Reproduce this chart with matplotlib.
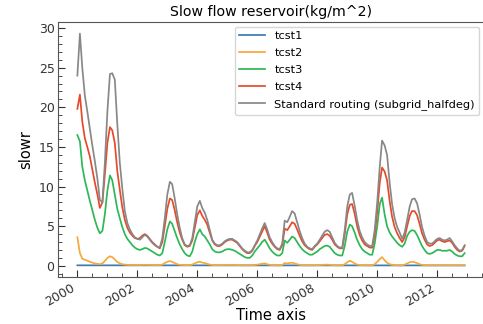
import matplotlib
matplotlib.use("Agg")
import matplotlib.pyplot as plt
import matplotlib.dates as mdates
import pandas as pd

# Monthly values, Jan 2000 - Dec 2012 (one row per year)
tcst1 = [
    0.06, 0.06, 0.05, 0.05, 0.05, 0.05, 0.05, 0.05, 0.05, 0.05, 0.05, 0.05,
    0.05, 0.06, 0.06, 0.05, 0.05, 0.05, 0.05, 0.05, 0.05, 0.05, 0.05, 0.05,
    0.05, 0.05, 0.05, 0.05, 0.05, 0.05, 0.05, 0.05, 0.05, 0.05, 0.05, 0.05,
    0.05, 0.05, 0.05, 0.05, 0.05, 0.05, 0.05, 0.05, 0.05, 0.05, 0.05, 0.05,
    0.05, 0.05, 0.05, 0.05, 0.05, 0.05, 0.05, 0.05, 0.05, 0.05, 0.05, 0.05,
    0.05, 0.05, 0.05, 0.05, 0.05, 0.05, 0.05, 0.05, 0.05, 0.05, 0.05, 0.05,
    0.05, 0.05, 0.05, 0.05, 0.05, 0.05, 0.05, 0.05, 0.05, 0.05, 0.05, 0.05,
    0.05, 0.05, 0.05, 0.05, 0.05, 0.05, 0.05, 0.05, 0.05, 0.05, 0.05, 0.05,
    0.05, 0.05, 0.05, 0.05, 0.05, 0.05, 0.05, 0.05, 0.05, 0.05, 0.05, 0.05,
    0.05, 0.05, 0.05, 0.05, 0.05, 0.05, 0.05, 0.05, 0.05, 0.05, 0.05, 0.05,
    0.05, 0.06, 0.06, 0.05, 0.05, 0.05, 0.05, 0.05, 0.05, 0.05, 0.05, 0.05,
    0.05, 0.05, 0.05, 0.05, 0.05, 0.05, 0.05, 0.05, 0.05, 0.05, 0.05, 0.05,
    0.05, 0.05, 0.05, 0.05, 0.05, 0.05, 0.05, 0.05, 0.05, 0.05, 0.05, 0.05,
]
tcst2 = [
    3.6, 1.6, 0.9, 0.75, 0.65, 0.5, 0.4, 0.3, 0.25, 0.2, 0.3, 0.6,
    1.0, 1.2, 1.1, 0.8, 0.5, 0.3, 0.2, 0.15, 0.12, 0.1, 0.1, 0.1,
    0.1, 0.1, 0.1, 0.12, 0.12, 0.1, 0.1, 0.08, 0.08, 0.08, 0.15, 0.35,
    0.5, 0.6, 0.5, 0.35, 0.2, 0.12, 0.1, 0.08, 0.08, 0.08, 0.15, 0.3,
    0.45, 0.5, 0.4, 0.35, 0.25, 0.15, 0.1, 0.08, 0.08, 0.08, 0.08, 0.1,
    0.1, 0.1, 0.1, 0.1, 0.08, 0.07, 0.06, 0.05, 0.05, 0.05, 0.06, 0.1,
    0.15, 0.2, 0.25, 0.3, 0.2, 0.12, 0.08, 0.06, 0.05, 0.05, 0.1, 0.35,
    0.3, 0.35, 0.4, 0.3, 0.2, 0.12, 0.08, 0.06, 0.05, 0.05, 0.05, 0.06,
    0.08, 0.1, 0.12, 0.15, 0.15, 0.12, 0.08, 0.06, 0.05, 0.05, 0.05, 0.2,
    0.45, 0.65, 0.5, 0.3, 0.15, 0.1, 0.07, 0.06, 0.05, 0.05, 0.05, 0.2,
    0.5, 0.85, 1.1, 0.7, 0.4, 0.2, 0.12, 0.08, 0.06, 0.05, 0.05, 0.15,
    0.3, 0.45, 0.5, 0.45, 0.35, 0.2, 0.12, 0.08, 0.06, 0.05, 0.05, 0.05,
    0.06, 0.06, 0.06, 0.06, 0.06, 0.07, 0.06, 0.05, 0.05, 0.05, 0.05, 0.05,
]
tcst3 = [
    16.5, 15.7, 12.5, 10.8, 9.5, 8.2, 7.0, 5.8, 4.8, 4.1, 4.4, 6.5,
    9.5, 11.4, 10.8, 9.0, 7.2, 6.0, 4.9, 4.0, 3.4, 3.0, 2.6, 2.3,
    2.1, 2.0, 2.1, 2.25, 2.2, 2.0, 1.8, 1.6, 1.4, 1.3, 1.6, 3.0,
    4.6, 5.6, 5.3, 4.4, 3.5, 2.7, 2.1, 1.6, 1.3, 1.2, 1.8, 3.0,
    4.0, 4.6, 4.0, 3.7, 3.2, 2.7, 2.1, 1.8, 1.7, 1.7, 1.8, 2.0,
    2.1, 2.1, 2.0, 1.9, 1.7, 1.5, 1.3, 1.1, 1.0, 1.0, 1.3, 1.8,
    2.2, 2.6, 3.0, 3.3, 2.8, 2.2, 1.8, 1.5, 1.3, 1.3, 1.6, 3.2,
    2.9, 3.3, 3.7, 3.5, 3.0, 2.5, 2.1, 1.8, 1.6, 1.4, 1.4, 1.6,
    1.8, 2.1, 2.3, 2.5, 2.55, 2.4, 2.0, 1.6, 1.4, 1.3, 1.3, 2.5,
    4.3, 5.2, 5.0, 4.2, 3.3, 2.6, 2.1, 1.8, 1.6, 1.4, 1.4, 2.8,
    5.0, 7.8, 8.6, 6.5, 5.0, 4.2, 3.7, 3.3, 2.9, 2.6, 2.4, 2.8,
    3.8, 4.3, 4.5, 4.4, 3.9, 3.2, 2.5, 2.0, 1.6, 1.5, 1.6, 1.8,
    2.0, 2.0, 1.9, 1.9, 1.9, 2.0, 1.8, 1.5, 1.3, 1.2, 1.2, 1.6,
]
tcst4 = [
    19.8, 21.6, 18.2, 16.1, 15.0, 13.8, 12.2, 10.5, 9.0, 7.3, 8.0, 11.5,
    15.5, 17.5, 17.1, 15.5, 12.0, 9.6, 7.4, 5.8, 4.8, 4.2, 3.8, 3.5,
    3.4, 3.5, 3.8, 4.0, 3.8, 3.4, 3.0, 2.7, 2.4, 2.2, 3.0, 5.0,
    7.2, 8.5, 8.3, 7.0, 5.5, 4.2, 3.3, 2.6, 2.4, 2.5, 3.2, 4.8,
    6.4, 7.0, 6.3, 5.8, 5.2, 4.2, 3.2, 2.7, 2.5, 2.5, 2.7, 3.0,
    3.2, 3.3, 3.3, 3.1, 2.9, 2.5, 2.1, 1.8, 1.6, 1.6, 1.9, 2.5,
    3.0, 3.7, 4.3, 5.0, 4.2, 3.3, 2.8, 2.4, 2.1, 2.0, 2.6, 4.7,
    4.5, 5.0, 5.5, 5.3, 4.6, 3.8, 3.1, 2.6, 2.3, 2.1, 2.0, 2.4,
    2.7, 3.1, 3.5, 3.9, 4.0, 3.8, 3.3, 2.7, 2.4, 2.2, 2.2, 4.0,
    6.5, 7.7, 7.8, 6.6, 5.0, 3.9, 3.2, 2.7, 2.5, 2.3, 2.3, 3.9,
    6.8, 10.5, 12.4, 11.9, 10.8, 8.2, 6.2, 4.9, 4.1, 3.5, 3.0, 3.6,
    5.0, 6.3, 6.9, 6.9, 6.4, 5.3, 4.1, 3.3, 2.7, 2.5, 2.6, 2.9,
    3.2, 3.3, 3.1, 3.0, 3.1, 3.2, 2.9, 2.4, 2.0, 1.8, 1.9, 2.5,
]
standard = [
    24.0, 29.3, 25.0, 21.5, 19.5, 17.3, 15.2, 13.2, 11.0, 8.3, 8.0, 13.0,
    19.5, 24.2, 24.3, 23.5, 18.0, 13.0, 9.8, 6.9, 5.4, 4.6, 4.0, 3.6,
    3.4, 3.3, 3.6, 3.9, 3.7, 3.3, 2.9, 2.6, 2.4, 2.3, 3.5, 6.0,
    9.0, 10.6, 10.3, 8.5, 6.5, 4.8, 3.5, 2.7, 2.5, 2.6, 3.5, 5.5,
    7.5, 8.2, 7.3, 6.7, 5.8, 4.5, 3.3, 2.8, 2.6, 2.6, 2.8, 3.1,
    3.3, 3.4, 3.4, 3.2, 3.0, 2.6, 2.2, 1.9, 1.7, 1.7, 2.0, 2.6,
    3.2, 4.0, 4.7, 5.4, 4.6, 3.6, 3.0, 2.5, 2.2, 2.1, 2.8, 5.7,
    5.5, 6.2, 6.9, 6.6, 5.5, 4.4, 3.5, 2.8, 2.4, 2.2, 2.1, 2.5,
    2.8, 3.3, 3.8, 4.3, 4.5, 4.3, 3.6, 2.9, 2.5, 2.3, 2.3, 4.5,
    7.5, 9.0, 9.2, 7.6, 5.8, 4.4, 3.6, 3.0, 2.7, 2.5, 2.5, 4.5,
    8.0, 12.5, 15.8, 15.2, 14.0, 10.5, 7.8, 6.0, 4.9, 4.2, 3.4, 4.2,
    5.8, 7.5, 8.4, 8.5, 7.9, 6.5, 4.9, 3.8, 3.0, 2.8, 2.8, 3.1,
    3.4, 3.5, 3.3, 3.2, 3.3, 3.5, 3.1, 2.6, 2.2, 1.9, 2.0, 2.6,
]

series_names = ["tcst1", "tcst2", "tcst3", "tcst4",
                "Standard routing (subgrid_halfdeg)"]
series_colors = ["#3b7bb3", "#f5a93a", "#2db857", "#e64a2a", "#888888"]

time = pd.date_range("2000-01-01", periods=len(standard), freq="MS")

fig = plt.figure(figsize=(4.83, 3.24), dpi=100)
ax = fig.add_axes([58 / 483, 47 / 324, 426 / 483, 255 / 324])

for values, name, color in zip([tcst1, tcst2, tcst3, tcst4, standard],
                               series_names, series_colors):
    ax.plot(time, values, color=color, lw=1.25, label=name)

ax.set_title("Slow flow reservoir(kg/m^2)", fontsize=10.2, pad=4)
ax.set_xlabel("Time axis", fontsize=10.5, labelpad=-1)
ax.set_ylabel("slowr", fontsize=10.5, labelpad=4)

ax.xaxis.set_major_locator(mdates.YearLocator(2))
ax.xaxis.set_major_formatter(mdates.DateFormatter("%Y"))
ax.xaxis.set_minor_locator(mdates.MonthLocator(bymonth=(1, 7)))
ax.set_yticks([0, 5, 10, 15, 20, 25, 30])
ax.yaxis.set_minor_locator(plt.MultipleLocator(1))

ax.tick_params(which="both", direction="in", labelsize=9, colors="#333333")
ax.tick_params(which="major", length=5)
ax.tick_params(which="minor", length=3)
ax.tick_params(axis="y", which="major", pad=2.5)
for lbl in ax.get_xticklabels():
    lbl.set_rotation(30)
    lbl.set_ha("right")
for sp in ax.spines.values():
    sp.set_color("#555555")

ax.legend(loc="upper right", fontsize=8.2, handlelength=2.3,
          borderaxespad=0.4, labelspacing=0.62)

fig.savefig("out.png", dpi=100)
